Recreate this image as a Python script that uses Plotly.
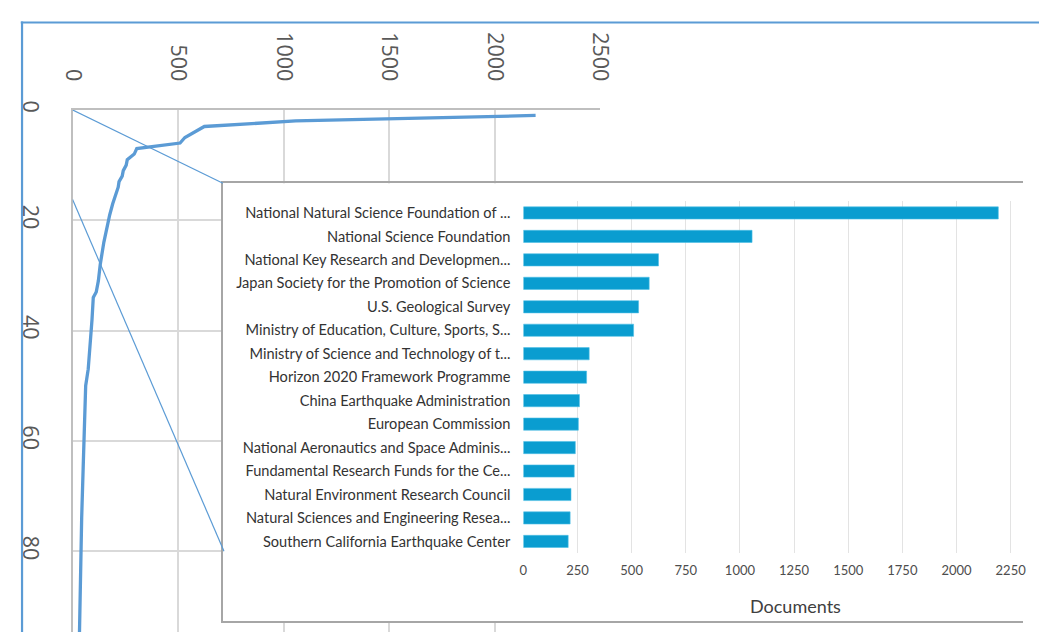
import plotly.graph_objects as go

# ---------------- data ----------------
# main (background) curve: documents per funding-sponsor rank
rank = [1, 2, 3, 4, 5, 6, 7, 8, 9, 10, 11, 12, 13, 14, 15,
        17, 19, 22, 24, 28, 31, 33, 34, 38, 43, 47, 50, 56, 65, 74, 83, 95, 100]
rank_docs = [2193, 1056, 624, 581, 532, 509, 304, 292, 259, 254, 240, 235, 220, 216, 207,
             190, 176, 158, 148, 131, 122, 112, 98, 92, 84, 74, 62, 56, 50, 43, 38, 32, 30]

# inset bar chart: top 15 funding sponsors
sponsors = [
    "National Natural Science Foundation of ...",
    "National Science Foundation",
    "National Key Research and Developmen...",
    "Japan Society for the Promotion of Science",
    "U.S. Geological Survey",
    "Ministry of Education, Culture, Sports, S...",
    "Ministry of Science and Technology of t...",
    "Horizon 2020 Framework Programme",
    "China Earthquake Administration",
    "European Commission",
    "National Aeronautics and Space Adminis...",
    "Fundamental Research Funds for the Ce...",
    "Natural Environment Research Council",
    "Natural Sciences and Engineering Resea...",
    "Southern California Earthquake Center",
]
sponsor_docs = [2193, 1056, 624, 581, 532, 509, 304, 292, 259, 254, 240, 235, 220, 216, 207]

main_xticks = [0, 500, 1000, 1500, 2000, 2500]
main_yticks = [0, 20, 40, 60, 80]
bar_xticks = [0, 250, 500, 750, 1000, 1250, 1500, 1750, 2000, 2250]

# ---------------- layout helpers ----------------
W, H = 1039, 632


def fx(px):
    return px / W


def fy(py):
    return 1 - py / H


BLUE = "#5b9bd5"
GRID = "#d9d9d9"
AXL = "#bfbfbf"

fig = go.Figure()

# main curve
fig.add_trace(go.Scatter(
    x=rank_docs, y=rank, mode="lines",
    line=dict(color=BLUE, width=3.3),
    xaxis="x", yaxis="y", hoverinfo="skip", showlegend=False,
))
# dummy trace creating the inset-frame subplot
fig.add_trace(go.Scatter(
    x=[None], y=[None], mode="markers", xaxis="x2", yaxis="y2",
    hoverinfo="skip", showlegend=False,
))
# inset bars
fig.add_trace(go.Bar(
    x=sponsor_docs, y=sponsors, orientation="h",
    marker=dict(color="#0a9dd0", line=dict(color="#4fc0e6", width=0.6)),
    width=0.52, xaxis="x3", yaxis="y3", hoverinfo="skip", showlegend=False,
))

main_font = dict(family="Open Sans", size=21.5, color="#595959")
lato = "Lato"

fig.update_layout(
    width=W, height=H, autosize=False,
    margin=dict(l=0, r=0, t=0, b=0, pad=0),
    paper_bgcolor="white", plot_bgcolor="white",
    showlegend=False,
    xaxis=dict(
        domain=[fx(61.3), fx(604.3)], range=[0, 2500], side="top", anchor="y",
        tickmode="array", tickvals=main_xticks, tickangle=90,
        tickfont=main_font, ticklabelstandoff=19,
        showgrid=True, gridcolor=GRID, gridwidth=1.5,
        showline=True, linecolor=AXL, linewidth=2, zeroline=False,
    ),
    yaxis=dict(
        domain=[0, fy(102.4)], range=[94.65, 0], anchor="x",
        tickmode="array", tickvals=main_yticks, tickangle=90,
        tickfont=main_font, ticklabelstandoff=22,
        showgrid=True, gridcolor=GRID, gridwidth=1.5,
        showline=True, linecolor=AXL, linewidth=2, zeroline=False,
    ),
    xaxis2=dict(
        domain=[fx(216), 1], range=[0, 1], anchor="y2",
        showticklabels=False, showgrid=False, zeroline=False, ticks="",
        showline=True, mirror=True, linecolor="#a6a6a6", linewidth=2,
    ),
    yaxis2=dict(
        domain=[fy(621), fy(177)], range=[0, 1], anchor="x2",
        showticklabels=False, showgrid=False, zeroline=False, ticks="",
        showline=True, mirror=False, linecolor="#a6a6a6", linewidth=2,
    ),
    xaxis3=dict(
        domain=[fx(525), 1], range=[0, (1039 - 525) / 55.7 * 250], anchor="y3",
        tickmode="array", tickvals=bar_xticks,
        tickfont=dict(family=lato, size=13, color="#4d4d4d"), ticklabelstandoff=8,
        showgrid=True, gridcolor="#e3e3e3", gridwidth=1,
        showline=False, zeroline=False,
    ),
    yaxis3=dict(
        domain=[fy(552), fy(195)], type="category", range=[14.5, -0.5], anchor="x3",
        tickfont=dict(family=lato, size=14.6, color="#333333"), ticklabelstandoff=12,
        showgrid=False, showline=False, zeroline=False,
    ),
)

# white background of the inset (lives in the inset-frame subplot, above the main chart)
fig.add_shape(type="rect", xref="x2", yref="y2", x0=0, x1=1, y0=0, y1=1,
              fillcolor="white", line=dict(width=0), layer="below")

# zoom connector lines (main-chart data coordinates)
fig.add_shape(type="line", xref="x", yref="y", x0=0, y0=0, x1=712, y1=13.3,
              line=dict(color=BLUE, width=1.2), layer="above")
fig.add_shape(type="line", xref="x", yref="y", x0=0, y0=16.25, x1=717, y1=80,
              line=dict(color=BLUE, width=1.2), layer="above")

# outer frame (top and left)
fig.add_shape(type="line", xref="paper", yref="paper", x0=fx(8), x1=1.05, y0=fy(13.7), y1=fy(13.7),
              line=dict(color=BLUE, width=2.2), layer="above")
fig.add_shape(type="line", xref="paper", yref="paper", x0=fx(9.3), x1=fx(9.3), y0=fy(12.7), y1=-0.05,
              line=dict(color=BLUE, width=2.2), layer="above")

fig.add_annotation(text="Documents", xref="paper", yref="paper", x=fx(805), y=fy(606),
                   xanchor="center", yanchor="middle", showarrow=False,
                   font=dict(family=lato, size=18, color="#404040"))

fig.write_html(
    "out.html",
    config={"responsive": False, "displayModeBar": False},
    post_script="document.body.style.margin='0';document.body.style.overflow='hidden';",
)
